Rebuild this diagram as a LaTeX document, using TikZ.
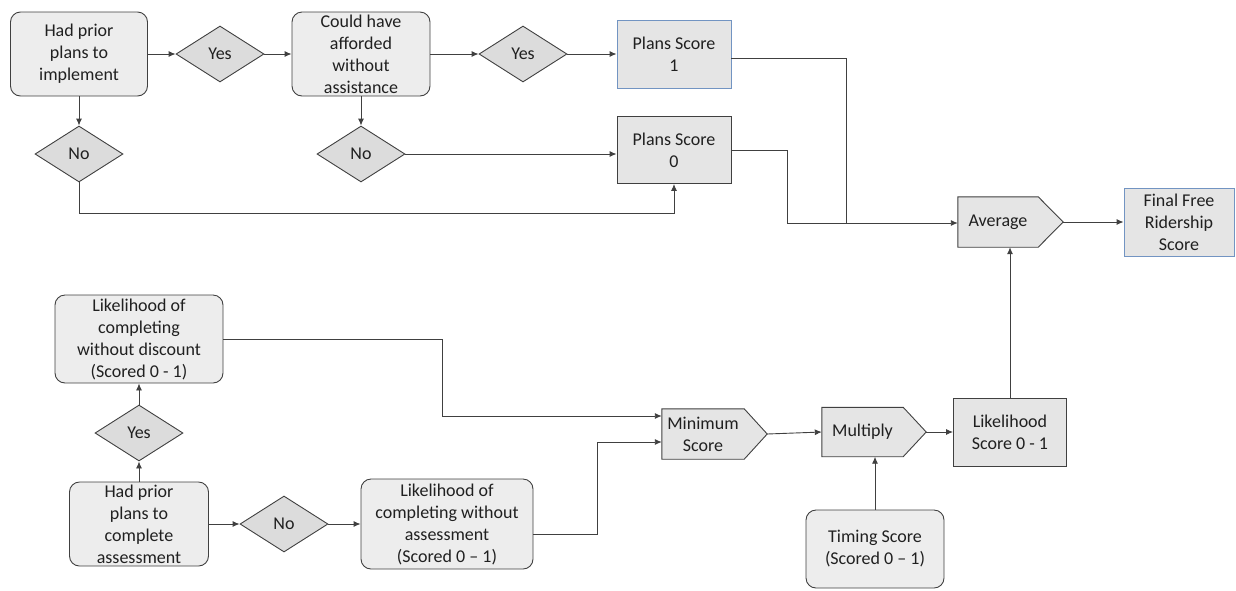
\documentclass[tikz,border=0pt]{standalone}
\usepackage{fontspec}
\setmainfont{Carlito}
\usetikzlibrary{shapes.geometric,arrows.meta,calc,backgrounds}
\definecolor{boxfill}{HTML}{EDEDED}
\definecolor{dfill}{HTML}{DCDCDC}
\definecolor{sfill}{HTML}{E5E5E5}
\definecolor{edgecol}{HTML}{404040}
\definecolor{bluebd}{HTML}{7294C2}
\definecolor{ink}{HTML}{202020}
\tikzset{
  base/.style={font=\fontsize{18}{22}\selectfont, text=ink, align=center, inner sep=0pt},
  rbox/.style={base, draw=edgecol, fill=boxfill, rounded corners=10pt, line width=0.9pt},
  sbox/.style={base, draw=edgecol, fill=sfill, line width=0.9pt},
  bbox/.style={base, draw=bluebd, fill=sfill, line width=0.9pt},
  dec/.style={base, diamond, draw=edgecol, fill=dfill, line width=0.9pt,
    minimum width=88pt, minimum height=56pt},
  pbody/.style={base},
  pent/.style={draw=edgecol, fill=sfill, line width=0.9pt},
  arr/.style={draw=edgecol, line width=0.9pt, -{Latex[length=7pt,width=6pt]}},
  lnk/.style={draw=edgecol, line width=0.9pt},
}
\begin{document}
\begin{tikzpicture}[x=1pt,y=-1pt]
\useasboundingbox (0,0) rectangle (1236,590);

% upper branch: plans to implement
\node[rbox, minimum width=137pt, minimum height=84pt] (plan) at (79,54) {Had prior\\plans to\\implement};
\node[dec] (yes1) at (220,54) {Yes};
\node[rbox, minimum width=138pt, minimum height=84pt] (could) at (361,54) {Could have\\afforded\\without\\assistance};
\node[dec] (yes2) at (523,54) {Yes};
\node[bbox, minimum width=114pt, minimum height=68pt] (ps1) at (674,54) {Plans Score\\1};
\node[dec] (no1) at (79,154) {No};
\node[dec] (no2) at (361,154) {No};
\node[sbox, minimum width=114pt, minimum height=67pt] (ps0) at (674,150) {Plans Score\\0};

% combining nodes
\node[pbody, minimum width=80pt, minimum height=50pt] (avg) at (998,222) {Average};
\node[bbox, minimum width=110pt, minimum height=68pt] (ffr) at (1179,222) {Final Free\\Ridership\\Score};
\node[sbox, minimum width=113pt, minimum height=68pt] (ls) at (1010,432) {Likelihood\\Score 0 - 1};
\node[pbody, minimum width=81pt, minimum height=49pt] (mul) at (862.5,432) {Multiply};
\node[pbody, minimum width=82pt, minimum height=50pt] (min) at (703,434) {Minimum\\Score};
\node[rbox, minimum width=138pt, minimum height=78pt] (ts) at (875,549) {Timing Score\\(Scored 0 -- 1)};

% lower branch: plans to complete assessment
\node[rbox, minimum width=168pt, minimum height=88pt] (ld) at (139,339) {Likelihood of\\completing\\without discount\\(Scored 0 - 1)};
\node[dec] (yes3) at (139,433) {Yes};
\node[rbox, minimum width=139pt, minimum height=84pt] (hp) at (139,524) {Had prior\\plans to\\complete\\assessment};
\node[dec] (no3) at (284,524) {No};
\node[rbox, minimum width=172pt, minimum height=90pt] (la) at (447,524) {Likelihood of\\completing without\\assessment\\(Scored 0 -- 1)};

% pointed outlines of the combining steps
\begin{scope}[on background layer]
\foreach \n/\t in {avg/25,min/23,mul/23}{
  \filldraw[pent] (\n.north west) -- (\n.north east) -- ($(\n.east)+(\t,0)$)
    -- (\n.south east) -- (\n.south west) -- cycle;
}
\end{scope}
\coordinate (avgtip) at ($(avg.east)+(25,0)$);
\coordinate (mintip) at ($(min.east)+(23,0)$);
\coordinate (multip) at ($(mul.east)+(23,0)$);
\coordinate (m1) at ($(min.west)+(0,-18)$);
\coordinate (m2) at ($(min.west)+(0,8)$);
\coordinate (avgin) at ($(avg.west)+(0,1)$);
\coordinate (avgbot) at ($(avg.south)+(13,0)$);

% upper connectors
\draw[arr] (plan) -- (yes1);
\draw[arr] (yes1) -- (could);
\draw[arr] (could) -- (yes2);
\draw[arr] (yes2) -- (ps1);
\draw[arr] (plan) -- (no1);
\draw[arr] (could) -- (no2);
\draw[arr] (no2.east) -- (no2.east -| ps0.west);
\draw[arr] (no1.south) -- ++(0,31) -| (ps0.south);
\draw[lnk] ($(ps1.east)+(0,4)$) -| ($(avgin)+(-111,0)$);
\draw[arr] (ps0.east) -| ($(avgin)+(-170,0)$) -- (avgin);
\draw[arr] (avgtip) -- (ffr.west);

% lower connectors
\draw[arr] (hp) -- (yes3);
\draw[arr] (yes3) -- (ld);
\draw[arr] (hp) -- (no3);
\draw[arr] (no3) -- (la);
\draw[arr] (ld.east) -- ++(219,0) |- (m1);
\draw[arr] ($(la.east)+(0,10)$) -- ++(64,0) |- (m2);
\draw[arr] (mintip) -- (mul.west);
\draw[arr] (ts.north) -- (ts.north |- mul.south);
\draw[arr] (multip) -- (ls.west);
\draw[arr] (ls.north) -- (ls.north |- avgbot);
\end{tikzpicture}
\end{document}
